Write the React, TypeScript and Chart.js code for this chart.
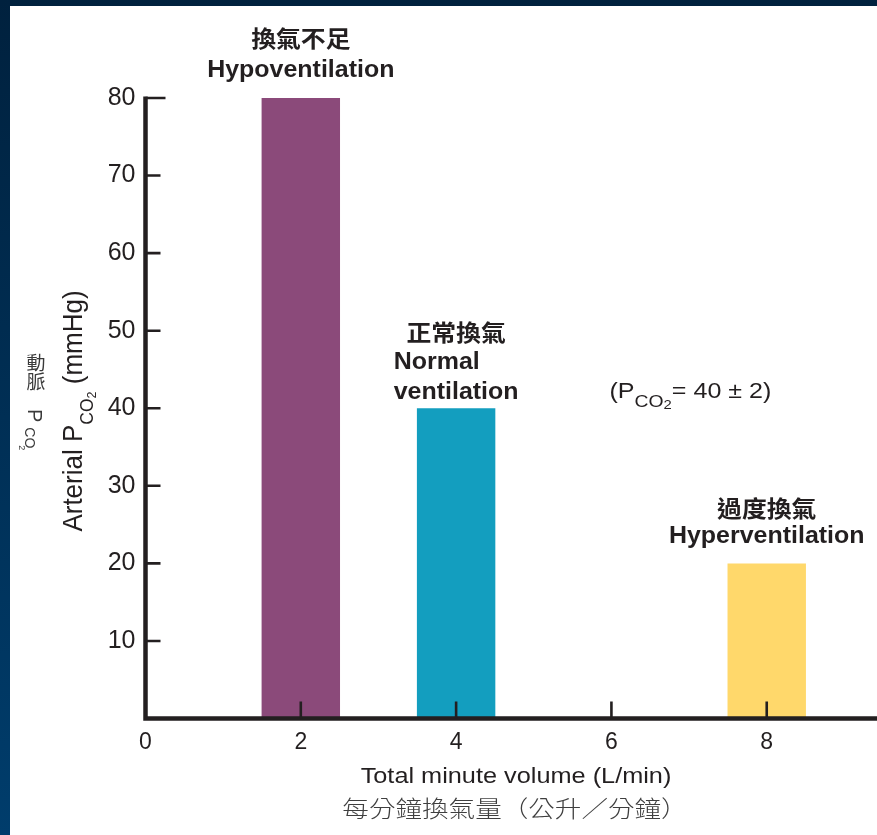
import React, { useEffect, useRef } from "react";
import { Chart, registerables } from "chart.js";

Chart.register(...registerables);

// Total minute volume (L/min) and the arterial PCO2 (mmHg) it produces
const volumes = [2, 4, 8];
const pco2 = [80, 40, 20];
const barColors = ["#8b4a7a", "#139ebf", "#ffd86b"];
const groupZh = ["換氣不足", "正常換氣", "過度換氣"];
const groupEn = [["Hypoventilation"], ["Normal", "ventilation"], ["Hyperventilation"]];

// Normal range note
const normalPco2 = 40;
const normalSpread = 2;

// Axis ticks
const xTickValues = [0, 2, 4, 6, 8];
const yTickValues = [10, 20, 30, 40, 50, 60, 70, 80];

const INK = "#231f20";
const LATIN = '"Liberation Sans", Arial, Helvetica, sans-serif';
const CJK = '"Noto Sans CJK TC", "Noto Sans CJK SC", sans-serif';

type Run = { text: string; font: string; dy?: number; gap?: number };

function drawRich(
  ctx: CanvasRenderingContext2D,
  runs: Run[],
  x: number,
  y: number,
  align: "left" | "center",
  sx = 1,
  sy = 1,
  rot = 0,
  color = INK
) {
  ctx.save();
  ctx.translate(x, y);
  if (rot) ctx.rotate(rot);
  ctx.scale(sx, sy);
  ctx.fillStyle = color;
  ctx.textAlign = "left";
  ctx.textBaseline = "alphabetic";
  const widths = runs.map((r) => {
    ctx.font = r.font;
    return ctx.measureText(r.text).width + (r.gap ?? 0);
  });
  const total = widths.reduce((a, b) => a + b, 0);
  let cx = align === "center" ? -total / 2 : 0;
  runs.forEach((r, i) => {
    ctx.font = r.font;
    ctx.fillText(r.text, cx, r.dy ?? 0);
    cx += widths[i];
  });
  ctx.restore();
}

function textWidth(ctx: CanvasRenderingContext2D, text: string, font: string) {
  ctx.save();
  ctx.font = font;
  const w = ctx.measureText(text).width;
  ctx.restore();
  return w;
}

// Label offsets (px) above each bar's top
const LABEL_LAYOUT = [
  { zh: -51, en: [-21], align: "center" as const },
  { zh: -67, en: [-39, -9], align: "left" as const },
  { zh: -46, en: [-20], align: "center" as const },
];

const axesAndLabels = {
  id: "axesAndLabels",
  afterDatasetsDraw(chart: Chart) {
    const ctx = chart.ctx;
    const { left, right, bottom } = chart.chartArea;
    const xs = chart.scales.x;
    const ys = chart.scales.y;
    const top = ys.getPixelForValue(yTickValues[yTickValues.length - 1]);

    ctx.save();
    ctx.strokeStyle = INK;
    ctx.lineCap = "butt";

    // axis lines
    ctx.lineWidth = 4.5;
    ctx.beginPath();
    ctx.moveTo(left, top - 1.5);
    ctx.lineTo(left, bottom + 2.25);
    ctx.moveTo(left - 2.25, bottom);
    ctx.lineTo(right, bottom);
    ctx.stroke();

    // inward tick marks
    ctx.lineWidth = 2.6;
    ctx.beginPath();
    yTickValues.forEach((v, i) => {
      const py = ys.getPixelForValue(v);
      const len = i === yTickValues.length - 1 ? 20 : 15;
      ctx.moveTo(left, py);
      ctx.lineTo(left + len, py);
    });
    xTickValues.forEach((v) => {
      if (v === 0) return;
      const px = xs.getPixelForValue(v);
      ctx.moveTo(px, bottom);
      ctx.lineTo(px, bottom - 17);
    });
    ctx.stroke();
    ctx.restore();

    // group labels over the bars
    const zhFont = `bold 23px ${CJK}`;
    const enFont = `bold 24px ${LATIN}`;
    const enSx = 1.04;
    volumes.forEach((v, i) => {
      const cx = xs.getPixelForValue(v);
      const barTop = ys.getPixelForValue(pco2[i]);
      const lay = LABEL_LAYOUT[i];
      drawRich(ctx, [{ text: groupZh[i], font: zhFont }], cx, barTop + lay.zh, "center", 1.08);
      const lines = groupEn[i];
      if (lay.align === "center") {
        lines.forEach((ln, j) => drawRich(ctx, [{ text: ln, font: enFont }], cx, barTop + lay.en[j], "center", enSx));
      } else {
        const widest = Math.max(...lines.map((ln) => textWidth(ctx, ln, enFont)));
        const lx = cx - (widest * enSx) / 2;
        lines.forEach((ln, j) => drawRich(ctx, [{ text: ln, font: enFont }], lx, barTop + lay.en[j], "left", enSx));
      }
    });

    // normal range note
    drawRich(
      ctx,
      [
        { text: "(P", font: `22px ${LATIN}` },
        { text: "CO", font: `17px ${LATIN}`, dy: 9 },
        { text: "2", font: `13px ${LATIN}`, dy: 11 },
        { text: `= ${normalPco2} ± ${normalSpread})`, font: `22px ${LATIN}` },
      ],
      xs.getPixelForValue(6) - 2,
      ys.getPixelForValue(normalPco2) - 10,
      "left",
      1.14
    );

    // x axis titles
    drawRich(ctx, [{ text: "Total minute volume (L/min)", font: `22px ${LATIN}` }], 506, 777, "center", 1.15);
    drawRich(ctx, [{ text: "每分鐘換氣量（公升／分鐘）", font: `300 23px ${CJK}` }], 505, 811, "center", 1.155, 1, 0, "#3f3f3f");

    // y axis titles
    drawRich(
      ctx,
      [
        { text: "Arterial P", font: `26px ${LATIN}` },
        { text: "CO", font: `17.5px ${LATIN}`, dy: 10 },
        { text: "2", font: `12.5px ${LATIN}`, dy: 13 },
        { text: " (mmHg)", font: `26px ${LATIN}` },
      ],
      72,
      405,
      "center",
      1,
      1.07,
      -Math.PI / 2
    );

    ctx.save();
    ctx.fillStyle = "#3a3a3a";
    ctx.font = `19px ${CJK}`;
    ctx.textAlign = "center";
    ctx.textBaseline = "middle";
    ctx.fillText("動", 26, 357);
    ctx.fillText("脈", 26, 376);
    ctx.restore();
    drawRich(
      ctx,
      [
        { text: "P", font: `20px ${LATIN}`, gap: 5 },
        { text: "CO", font: `14px ${LATIN}`, dy: 3, gap: -3 },
        { text: "2", font: `9px ${LATIN}`, dy: 9 },
      ],
      18,
      403,
      "left",
      1,
      1,
      Math.PI / 2,
      "#3a3a3a"
    );
  },
};

export default function App() {
  const canvasRef = useRef<HTMLCanvasElement | null>(null);

  useEffect(() => {
    const canvas = canvasRef.current;
    if (!canvas) return;
    const chart = new Chart(canvas, {
      type: "bar",
      data: {
        datasets: [
          {
            data: volumes.map((v, i) => ({ x: v, y: pco2[i] })),
            backgroundColor: barColors,
            borderWidth: 0,
            barPercentage: 0.505,
            categoryPercentage: 1,
          },
        ],
      },
      options: {
        responsive: false,
        animation: false,
        devicePixelRatio: 1,
        events: [],
        layout: { padding: { top: 92, left: 0, right: 0, bottom: 66.5 } },
        plugins: { legend: { display: false }, tooltip: { enabled: false } },
        scales: {
          x: {
            type: "linear",
            offset: false,
            min: 0,
            max: 9.42,
            afterBuildTicks: (scale: any) => {
              scale.ticks = xTickValues.map((value) => ({ value }));
            },
            afterFit: (scale: any) => {
              scale.height = 50;
            },
            grid: { display: false, drawTicks: false, offset: false },
            border: { display: false },
            ticks: {
              padding: 10,
              color: INK,
              font: { family: LATIN, size: 23 },
              maxRotation: 0,
              autoSkip: false,
            },
          },
          y: {
            type: "linear",
            min: 0,
            max: 80,
            afterBuildTicks: (scale: any) => {
              scale.ticks = yTickValues.map((value) => ({ value }));
            },
            afterFit: (scale: any) => {
              scale.width = 135.5;
            },
            grid: { display: false, drawTicks: false },
            border: { display: false },
            ticks: {
              padding: 10,
              color: INK,
              font: { family: LATIN, size: 25 },
              autoSkip: false,
            },
          },
        },
      },
      plugins: [axesAndLabels],
    });
    return () => chart.destroy();
  }, []);

  return (
    <div
      style={{
        position: "absolute",
        left: 0,
        top: 0,
        width: 877,
        height: 835,
        overflow: "hidden",
        background: "linear-gradient(to bottom, #00213e, #003d6c)",
      }}
    >
      <canvas
        ref={canvasRef}
        width={867}
        height={829}
        style={{ position: "absolute", left: 10, top: 6, width: 867, height: 829, background: "#ffffff", display: "block" }}
      />
    </div>
  );
}
